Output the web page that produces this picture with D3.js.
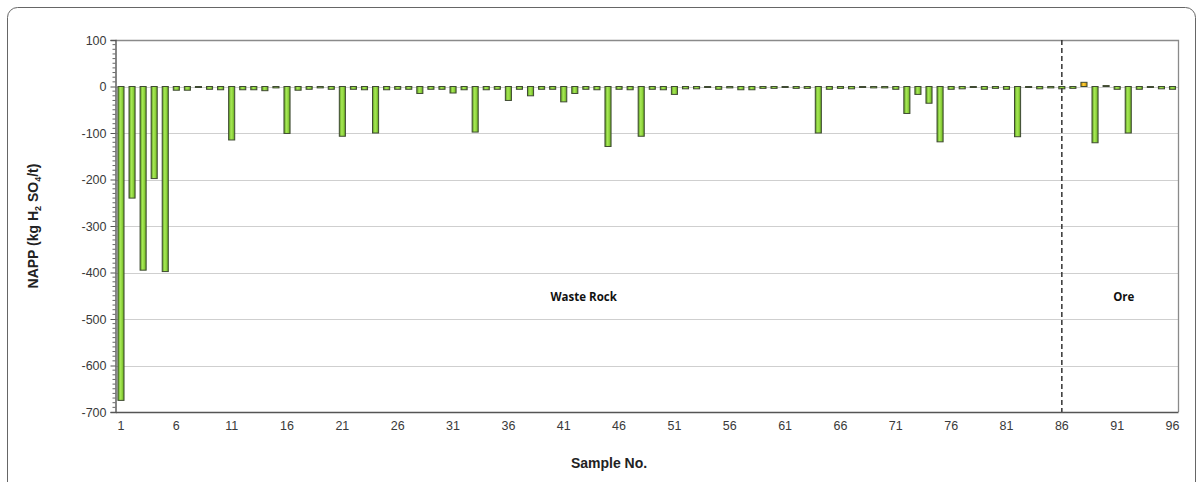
<!DOCTYPE html>
<html>
<head>
<meta charset="utf-8">
<script src="https://cdn.jsdelivr.net/npm/d3@7"></script>
<style>
  html, body { margin: 0; padding: 0; background: #fff; }
  svg { display: block; }
</style>
</head>
<body>
<svg id="chart" width="1203" height="482"></svg>
<script>
// Sample numbers along the x axis
const samples = d3.range(1, 97);

// Net acid producing potential per sample (kg H2SO4/t)
const napp = [
  -675, -240, -395, -198, -398, -8, -8, -2, -6, -7,
  -115, -7, -7, -9, -3, -101, -8, -6, -3, -6,
  -107, -6, -7, -100, -7, -6, -6, -15, -6, -6,
  -14, -7, -98, -7, -6, -30, -6, -20, -6, -6,
  -33, -15, -6, -7, -129, -6, -7, -107, -6, -7,
  -17, -5, -5, -2, -6, -3, -7, -7, -4, -4,
  -2, -4, -4, -100, -6, -4, -5, -2, -3, -3,
  -6, -58, -17, -36, -119, -6, -5, -2, -6, -4,
  -6, -108, -2, -5, -3, -5, -4, 9, -121, 2,
  -6, -100, -6, -2, -5, -6
];

// Axis ticks
const yTicks = [100, 0, -100, -200, -300, -400, -500, -600, -700];
const yMinorTicks = d3.range(-700, 101, 10);
const xTickLabels = [1, 6, 11, 16, 21, 26, 31, 36, 41, 46, 51, 56, 61, 66, 71, 76, 81, 86, 91, 96];

// Group boundary and group labels (positions in sample units)
const groupBoundary = 86;
const groups = [
  { name: "Waste Rock", at: 42.8 },
  { name: "Ore", at: 91.6 }
];

const svg = d3.select("#chart");
const margin = { left: 115.5, right: 1178, top: 40, bottom: 412 };

// Outer rounded panel
svg.append("rect")
  .attr("x", 7.5).attr("y", 7.5)
  .attr("width", 1188).attr("height", 490)
  .attr("rx", 10).attr("ry", 10)
  .attr("fill", "none")
  .attr("stroke", "#666")
  .attr("stroke-width", 1);

const x = d3.scaleBand()
  .domain(samples)
  .range([margin.left, margin.right])
  .paddingInner(0.45)
  .paddingOuter(0.22);

const xc = d => x(d) + x.bandwidth() / 2;
// Continuous position in sample units (for labels between samples)
const xAt = s => xc(samples[0]) + (s - samples[0]) * x.step();

const y = d3.scaleLinear()
  .domain([-700, 100])
  .range([margin.bottom, margin.top]);

// Bar fill gradients
const defs = svg.append("defs");
function grad(id, stops) {
  const g = defs.append("linearGradient").attr("id", id)
    .attr("x1", "0%").attr("x2", "100%").attr("y1", "0%").attr("y2", "0%");
  stops.forEach(([o, c]) => g.append("stop").attr("offset", o).attr("stop-color", c));
}
grad("gNeg", [["0%", "#5a9a1c"], ["40%", "#a6e856"], ["70%", "#8fd43c"], ["100%", "#5a9a1c"]]);
grad("gPos", [["0%", "#c98a00"], ["45%", "#ffd23a"], ["100%", "#c98a00"]]);

// Horizontal gridlines
svg.append("g")
  .selectAll("line")
  .data(yTicks.filter(t => t !== 100 && t !== -700))
  .join("line")
  .attr("x1", margin.left).attr("x2", margin.right)
  .attr("y1", d => Math.round(y(d)) + 0.5).attr("y2", d => Math.round(y(d)) + 0.5)
  .attr("stroke", "#cfcfcf")
  .attr("stroke-width", 1.2);

// Plot frame (top and right)
svg.append("path")
  .attr("d", `M${margin.left},${margin.top + 0.5}H${margin.right + 0.5}V${margin.bottom}`)
  .attr("fill", "none")
  .attr("stroke", "#8a8a8a")
  .attr("stroke-width", 1.3);

// Bars
svg.append("g")
  .selectAll("rect")
  .data(samples.map((s, i) => ({ s, v: napp[i] })))
  .join("rect")
  .attr("x", d => x(d.s))
  .attr("width", x.bandwidth())
  .attr("y", d => y(Math.max(0, d.v)))
  .attr("height", d => Math.max(1, Math.abs(y(d.v) - y(0))))
  .attr("fill", d => d.v >= 0 ? "url(#gPos)" : "url(#gNeg)")
  .attr("stroke", "#3f4a33")
  .attr("stroke-width", 1);

// Group separator
svg.append("line")
  .attr("x1", xc(groupBoundary)).attr("x2", xc(groupBoundary))
  .attr("y1", margin.top).attr("y2", margin.bottom)
  .attr("stroke", "#333")
  .attr("stroke-width", 1.5)
  .attr("stroke-dasharray", "5,3");

// Y axis with major and minor ticks
const yAxis = svg.append("g")
  .attr("transform", `translate(${margin.left},0)`)
  .call(d3.axisLeft(y).tickValues(yTicks).tickSize(5).tickPadding(4).tickFormat(d => String(d)));
yAxis.select(".domain").attr("stroke", "#555").attr("stroke-width", 1.4);
yAxis.selectAll(".tick line").attr("stroke", "#555");
yAxis.selectAll(".tick text")
  .attr("font-family", "'Liberation Sans', Arial, sans-serif")
  .attr("font-size", 12.5)
  .attr("fill", "#3a3a3a");

svg.append("g")
  .selectAll("line")
  .data(yMinorTicks.filter(t => t % 100 !== 0))
  .join("line")
  .attr("x1", margin.left - 3).attr("x2", margin.left)
  .attr("y1", d => y(d)).attr("y2", d => y(d))
  .attr("stroke", "#666")
  .attr("stroke-width", 1);

// X axis
const xAxis = svg.append("g")
  .attr("transform", `translate(0,${margin.bottom})`)
  .call(d3.axisBottom(x).tickValues(xTickLabels).tickSize(0).tickPadding(9));
xAxis.select(".domain").attr("stroke", "#555").attr("stroke-width", 1.4);
xAxis.selectAll(".tick text")
  .attr("font-family", "'Liberation Sans', Arial, sans-serif")
  .attr("font-size", 12.5)
  .attr("fill", "#3a3a3a");

// Group labels
svg.append("g")
  .selectAll("text")
  .data(groups)
  .join("text")
  .attr("x", d => xAt(d.at))
  .attr("y", 301)
  .attr("text-anchor", "middle")
  .attr("font-family", "'Open Sans', 'Liberation Sans', sans-serif")
  .attr("font-weight", "bold")
  .attr("font-size", 11.5)
  .attr("fill", "#111")
  .text(d => d.name);

// Axis titles
svg.append("text")
  .attr("x", 609).attr("y", 468)
  .attr("text-anchor", "middle")
  .attr("font-family", "'Liberation Sans', Arial, sans-serif")
  .attr("font-weight", "bold")
  .attr("font-size", 14)
  .attr("fill", "#222")
  .text("Sample No.");

const yt = svg.append("text")
  .attr("transform", `translate(38,${(margin.top + margin.bottom) / 2}) rotate(-90)`)
  .attr("text-anchor", "middle")
  .attr("font-family", "'Liberation Sans', Arial, sans-serif")
  .attr("font-weight", "bold")
  .attr("font-size", 14)
  .attr("fill", "#222");
yt.append("tspan").text("NAPP (kg H");
yt.append("tspan").attr("font-size", 9).attr("dy", 3).text("2");
yt.append("tspan").attr("dy", -3).text(" SO");
yt.append("tspan").attr("font-size", 9).attr("dy", 3).text("4");
yt.append("tspan").attr("dy", -3).text("/t)");
</script>
</body>
</html>
